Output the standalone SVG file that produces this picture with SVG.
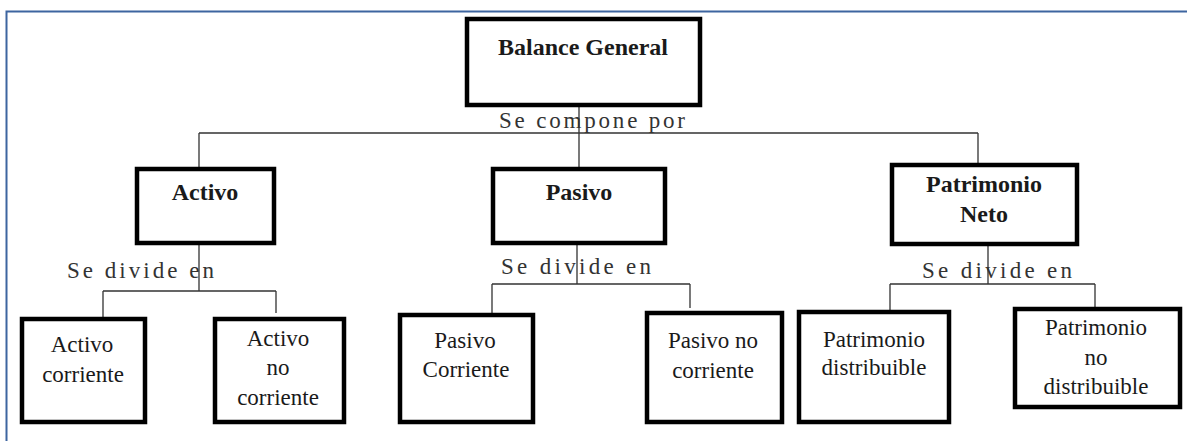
<svg xmlns="http://www.w3.org/2000/svg" width="1187" height="441" viewBox="0 0 1187 441">
<style>
.box{fill:#fff;stroke:#000;stroke-width:4.5}
.conn{stroke:#333;stroke-width:1.3;fill:none}
text{font-family:'Liberation Serif','Times New Roman',serif}
.t{fill:#1a1a1a;text-anchor:middle;font-size:23px}
.b{font-weight:bold;font-size:24px}
.s{fill:#333;font-size:23px}
</style>
<rect x="0" y="0" width="1187" height="441" fill="#fff"/>
<rect x="6.5" y="11.5" width="1200" height="460" fill="none" stroke="#3d65a0" stroke-width="2"/>
<g id="connectors">
<path class="conn" d="M579 107V167M199 133H978M199 133V167M978 133V163"/>
<path class="conn" d="M199 245V291M103 291H276M103 291V317M276 291V313"/>
<path class="conn" d="M577 245V284M492 284H690M492 284V313M690 284V308"/>
<path class="conn" d="M988 245V284M890 284H1095M890 284V310M1095 284V307"/>
<text class="s" x="499" y="128" textLength="186" lengthAdjust="spacing">Se compone por</text>
<text class="s" x="67" y="278" textLength="147" lengthAdjust="spacing">Se divide en</text>
<text class="s" x="501" y="274" textLength="150" lengthAdjust="spacing">Se divide en</text>
<text class="s" x="922" y="278" textLength="150" lengthAdjust="spacing">Se divide en</text>
</g>
<g id="balance-general">
<rect class="box" x="467" y="19" width="233" height="86"/>
<text class="t b" x="583" y="55">Balance General</text>
</g>
<g id="activo">
<rect class="box" x="137" y="169" width="137" height="74"/>
<text class="t b" x="205" y="200">Activo</text>
</g>
<g id="pasivo">
<rect class="box" x="493" y="169" width="172" height="74"/>
<text class="t b" x="579" y="200">Pasivo</text>
</g>
<g id="patrimonio-neto">
<rect class="box" x="892" y="165" width="185" height="79"/>
<text class="t b" x="984" y="192">Patrimonio</text>
<text class="t b" x="984" y="222">Neto</text>
</g>
<g id="activo-corriente">
<rect class="box" x="22" y="319" width="123" height="103"/>
<text class="t" x="82" y="352">Activo</text>
<text class="t" x="83" y="382">corriente</text>
</g>
<g id="activo-no-corriente">
<rect class="box" x="215" y="319" width="129" height="103"/>
<text class="t" x="278" y="346">Activo</text>
<text class="t" x="278" y="375">no</text>
<text class="t" x="278" y="405">corriente</text>
</g>
<g id="pasivo-corriente">
<rect class="box" x="400" y="315" width="133" height="107"/>
<text class="t" x="465" y="348">Pasivo</text>
<text class="t" x="466" y="377">Corriente</text>
</g>
<g id="pasivo-no-corriente">
<rect class="box" x="647" y="313" width="135" height="109"/>
<text class="t" x="713" y="348">Pasivo no</text>
<text class="t" x="713" y="378">corriente</text>
</g>
<g id="patrimonio-distribuible">
<rect class="box" x="799" y="312" width="150" height="110"/>
<text class="t" x="874" y="347">Patrimonio</text>
<text class="t" x="874" y="375">distribuible</text>
</g>
<g id="patrimonio-no-distribuible">
<rect class="box" x="1015" y="309" width="165" height="98"/>
<text class="t" x="1096" y="335">Patrimonio</text>
<text class="t" x="1096" y="365">no</text>
<text class="t" x="1096" y="394">distribuible</text>
</g>
</svg>
